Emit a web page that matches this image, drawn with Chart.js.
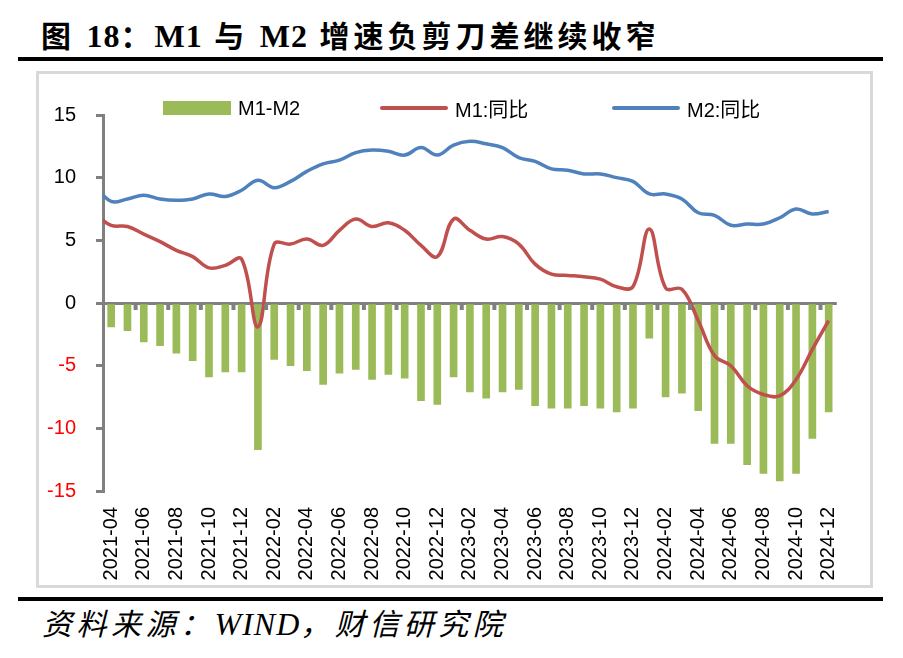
<!DOCTYPE html>
<html lang="zh">
<head>
    <meta charset="UTF-8">
    <title>M1与M2增速负剪刀差继续收窄</title>
    <script src="https://cdn.jsdelivr.net/npm/chart.js"></script>
    <style>
        body {
            margin: 0;
            background: #fff;
            width: 903px;
            height: 658px;
            position: relative;
            overflow: hidden;
        }
        .title {
            position: absolute;
            left: 41px;
            top: 21px;
            font-family: "Liberation Serif", "Noto Sans CJK SC", serif;
            font-weight: bold;
            font-size: 30px;
            line-height: 30px;
            letter-spacing: 4px;
            white-space: nowrap;
            color: #000;
        }
        .title .lat {
            font-size: 32px;
            letter-spacing: 1px;
        }
        .rule {
            position: absolute;
            left: 18px;
            width: 865px;
            height: 4px;
            background: #000;
        }
        .frame {
            position: absolute;
            left: 36px;
            top: 71px;
            width: 837px;
            height: 517px;
            box-sizing: border-box;
            border: 3px solid #d9d9d9;
        }
        .chart-box {
            position: absolute;
            left: 39px;
            top: 74px;
            width: 830px;
            height: 510px;
        }
        .legend-item {
            position: absolute;
            top: 96px;
            height: 24px;
            display: flex;
            align-items: center;
            font-family: "Liberation Sans", "Noto Sans CJK SC", sans-serif;
            font-size: 20px;
            color: #000;
            white-space: nowrap;
        }
        .legend-item span.key {
            display: inline-block;
            width: 68px;
            margin-right: 7px;
        }
        .source {
            position: absolute;
            left: 42px;
            top: 608px;
            font-family: "Liberation Serif", "Noto Sans CJK SC", serif;
            font-style: italic;
            font-size: 30px;
            line-height: 32px;
            letter-spacing: 4.5px;
            white-space: nowrap;
            color: #000;
        }
        .source .lat {
            font-size: 32px;
            letter-spacing: 1px;
        }
    </style>
</head>
<body>
    <div class="title">图 <span class="lat">18</span>：<span class="lat">M1</span> 与 <span class="lat">M2</span> 增速负剪刀差继续收窄</div>
    <div class="rule" style="top:57px"></div>
    <div class="frame"></div>
    <div class="chart-box"><canvas id="chart"></canvas></div>
    <div id="legend"></div>
    <div class="rule" style="top:597px"></div>
    <div class="source">资料来源：<span class="lat">WIND</span>，财信研究院</div>

    <script>
        // 2021-03 is only there so the lines come in from the left edge
        const months = [
            '2021-03', '2021-04', '2021-05', '2021-06', '2021-07', '2021-08', '2021-09', '2021-10', '2021-11', '2021-12',
            '2022-01', '2022-02', '2022-03', '2022-04', '2022-05', '2022-06', '2022-07', '2022-08', '2022-09', '2022-10', '2022-11', '2022-12',
            '2023-01', '2023-02', '2023-03', '2023-04', '2023-05', '2023-06', '2023-07', '2023-08', '2023-09', '2023-10', '2023-11', '2023-12',
            '2024-01', '2024-02', '2024-03', '2024-04', '2024-05', '2024-06', '2024-07', '2024-08', '2024-09', '2024-10', '2024-11', '2024-12'
        ];
        const gap = [null,
            -1.9, -2.2, -3.1, -3.4, -4.0, -4.6, -5.9, -5.5, -5.5,
            -11.7, -4.5, -5.0, -5.4, -6.5, -5.6, -5.3, -6.1, -5.7, -6.0, -7.8, -8.1,
            -5.9, -7.1, -7.6, -7.1, -6.9, -8.2, -8.4, -8.4, -8.2, -8.4, -8.7, -8.4,
            -2.8, -7.5, -7.2, -8.6, -11.2, -11.2, -12.9, -13.6, -14.2, -13.6, -10.8, -8.7];
        const m1 = [7.1,
            6.2, 6.1, 5.5, 4.9, 4.2, 3.7, 2.8, 3.0, 3.5,
            -1.9, 4.7, 4.7, 5.1, 4.6, 5.8, 6.7, 6.1, 6.4, 5.8, 4.6, 3.7,
            6.7, 5.8, 5.1, 5.3, 4.7, 3.1, 2.3, 2.2, 2.1, 1.9, 1.3, 1.3,
            5.9, 1.2, 1.1, -1.4, -4.2, -5.0, -6.6, -7.3, -7.4, -6.1, -3.7, -1.4];
        const m2 = [9.4,
            8.1, 8.3, 8.6, 8.3, 8.2, 8.3, 8.7, 8.5, 9.0,
            9.8, 9.2, 9.7, 10.5, 11.1, 11.4, 12.0, 12.2, 12.1, 11.8, 12.4, 11.8,
            12.6, 12.9, 12.7, 12.4, 11.6, 11.3, 10.7, 10.6, 10.3, 10.3, 10.0, 9.7,
            8.7, 8.7, 8.3, 7.2, 7.0, 6.2, 6.3, 6.3, 6.8, 7.5, 7.1, 7.3];
        const yTicks = [-15, -10, -5, 0, 5, 10, 15];

        const GREEN = '#9BBB59';
        const RED = '#C0504D';
        const BLUE = '#4F81BD';
        const AXIS = '#808080';

        Chart.defaults.font.family = '"Liberation Sans", Arial, sans-serif';
        Chart.defaults.font.size = 20;
        Chart.defaults.color = '#000';

        // little gray marks under the zero line, every second month boundary
        const zeroTicks = {
            id: 'zeroTicks',
            afterDatasetsDraw(chart) {
                const { ctx, scales: { x, y } } = chart;
                const y0 = y.getPixelForValue(0);
                ctx.save();
                ctx.strokeStyle = AXIS;
                ctx.lineWidth = 4;
                for (let k = 2; k <= x.max - x.min; k += 2) {
                    const px = (x.getPixelForValue(x.min + k - 1) + x.getPixelForValue(x.min + k)) / 2;
                    ctx.beginPath();
                    ctx.moveTo(px, y0 + 1);
                    ctx.lineTo(px, y0 + 7);
                    ctx.stroke();
                }
                ctx.restore();
            }
        };

        const datasets = [
            {
                type: 'bar',
                label: 'M1-M2',
                data: gap,
                backgroundColor: GREEN,
                borderWidth: 0,
                barThickness: 7,
                order: 3
            },
            {
                type: 'line',
                label: 'M1:同比',
                data: m1,
                borderColor: RED,
                backgroundColor: RED,
                borderWidth: 3.5,
                pointRadius: 0,
                tension: 0.4,
                clip: 0,
                order: 2
            },
            {
                type: 'line',
                label: 'M2:同比',
                data: m2,
                borderColor: BLUE,
                backgroundColor: BLUE,
                borderWidth: 3.5,
                pointRadius: 0,
                tension: 0.4,
                clip: 0,
                order: 1
            }
        ];

        new Chart(document.getElementById('chart'), {
            data: { labels: months, datasets: datasets },
            options: {
                responsive: true,
                maintainAspectRatio: false,
                animation: false,
                layout: { padding: { top: 41, right: 30, bottom: 0, left: 0 } },
                plugins: {
                    legend: { display: false },
                    tooltip: { enabled: false }
                },
                scales: {
                    x: {
                        min: '2021-04',
                        offset: true,
                        grid: { display: false, drawTicks: false },
                        border: { display: false },
                        ticks: {
                            autoSkip: false,
                            minRotation: 90,
                            maxRotation: 90,
                            padding: 16,
                            callback(value, index) {
                                return index % 2 === 0 ? this.getLabelForValue(value) : '';
                            }
                        },
                        afterFit(scale) { scale.height = 93; }
                    },
                    y: {
                        min: -15,
                        max: 15,
                        afterBuildTicks(scale) {
                            scale.ticks = yTicks.map(v => ({ value: v }));
                        },
                        grid: {
                            drawOnChartArea: true,
                            color: ctx => ctx.tick && ctx.tick.value === 0 ? AXIS : 'rgba(0,0,0,0)',
                            tickColor: AXIS,
                            lineWidth: 3,
                            tickLength: 7
                        },
                        border: { display: true, color: AXIS, width: 3 },
                        ticks: {
                            padding: 20,
                            color: ctx => ctx.tick.value < 0 ? '#FF0000' : '#000'
                        },
                        afterFit(scale) { scale.width = 64; }
                    }
                }
            },
            plugins: [zeroTicks]
        });

        // legend laid out like the original, one item per dataset
        const legendLeft = [163, 380, 612];
        const legend = document.getElementById('legend');
        datasets.forEach((ds, i) => {
            const item = document.createElement('div');
            item.className = 'legend-item';
            item.style.left = legendLeft[i] + 'px';
            const key = document.createElement('span');
            key.className = 'key';
            if (ds.type === 'bar') {
                key.style.height = '14px';
                key.style.background = ds.backgroundColor;
            } else {
                key.style.height = '3.5px';
                key.style.background = ds.borderColor;
                key.style.borderRadius = '2px';
            }
            item.appendChild(key);
            item.appendChild(document.createTextNode(ds.label));
            legend.appendChild(item);
        });
    </script>
</body>
</html>
